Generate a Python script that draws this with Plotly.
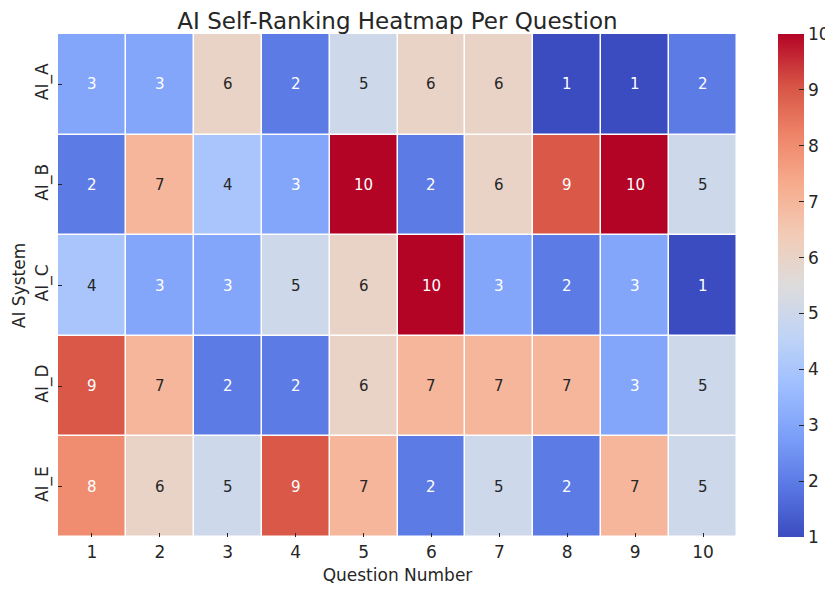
import plotly.graph_objects as go

questions = [1, 2, 3, 4, 5, 6, 7, 8, 9, 10]
systems = ["AI_A", "AI_B", "AI_C", "AI_D", "AI_E"]
ai_a = [3, 3, 6, 2, 5, 6, 6, 1, 1, 2]
ai_b = [2, 7, 4, 3, 10, 2, 6, 9, 10, 5]
ai_c = [4, 3, 3, 5, 6, 10, 3, 2, 3, 1]
ai_d = [9, 7, 2, 2, 6, 7, 7, 7, 3, 5]
ai_e = [8, 6, 5, 9, 7, 2, 5, 2, 7, 5]
z = [ai_a, ai_b, ai_c, ai_d, ai_e]

coolwarm = ['#3b4cc0', '#5977e3', '#7b9ff9', '#9ebeff', '#c0d4f5', '#dddcdc',
            '#f2cbb7', '#f7ac8e', '#ee8468', '#d65244', '#b40426']
colorscale = [[i / 10, c] for i, c in enumerate(coolwarm)]

# page body has an 8px default margin; figure coordinates are offset by it
W, H = 825, 582
L, R, T, B = 50, 729, 26, 529
plot_w = R - L

xlab = [str(q) for q in questions]
fig = go.Figure(go.Heatmap(
    z=z, x=xlab, y=systems, colorscale=colorscale, zmin=1, zmax=10,
    xgap=1.5, ygap=1.5, hoverinfo="skip",
    colorbar=dict(
        thickness=26, len=1.0, lenmode="fraction", y=0.5, yanchor="middle",
        x=(770 - L) / plot_w, xanchor="left", xpad=0, ypad=0,
        outlinewidth=0, tickmode="array", tickvals=list(range(1, 11)),
        ticks="inside", ticklen=5, tickcolor="#262626",
        tickfont=dict(size=17, color="#262626", family="DejaVu Sans"),
    ),
))
try:
    fig.data[0].colorbar.ticklabelstandoff = 4
except Exception:
    pass

annotations = []
for r, row in enumerate(z):
    for c, v in enumerate(row):
        col = "white" if (v <= 3 or v >= 8) else "#262626"
        annotations.append(dict(x=c, y=r, xref="x", yref="y",
                                text=str(v), showarrow=False,
                                font=dict(size=15, color=col, family="DejaVu Sans")))

fig.update_layout(
    width=W, height=H,
    margin=dict(l=L, r=W - R, t=T, b=H - B, autoexpand=False),
    paper_bgcolor="white", plot_bgcolor="white",
    font=dict(family="DejaVu Sans", color="#262626"),
    title=dict(text="AI Self-Ranking Heatmap Per Question", x=((L + R) / 2) / W,
               xanchor="center", y=1 - 13 / H, yanchor="middle",
               font=dict(size=23, color="#262626", family="DejaVu Sans")),
    annotations=annotations,
)
fig.update_xaxes(title=dict(text="Question Number", standoff=8,
                            font=dict(size=17, color="#262626")),
                 automargin=False, ticklabelstandoff=3,
                 ticks="inside", ticklen=4, tickcolor="#262626",
                 tickfont=dict(size=17, color="#262626"), showgrid=False,
                 zeroline=False, showline=False)
fig.update_yaxes(title=dict(text="AI System", standoff=1,
                            font=dict(size=17, color="#262626")),
                 automargin=False, ticklabelstandoff=6,
                 autorange="reversed", tickangle=-90,
                 ticks="inside", ticklen=4, tickcolor="#262626",
                 tickfont=dict(size=17, color="#262626"), showgrid=False,
                 zeroline=False, showline=False)

fig.write_html("out.html")
